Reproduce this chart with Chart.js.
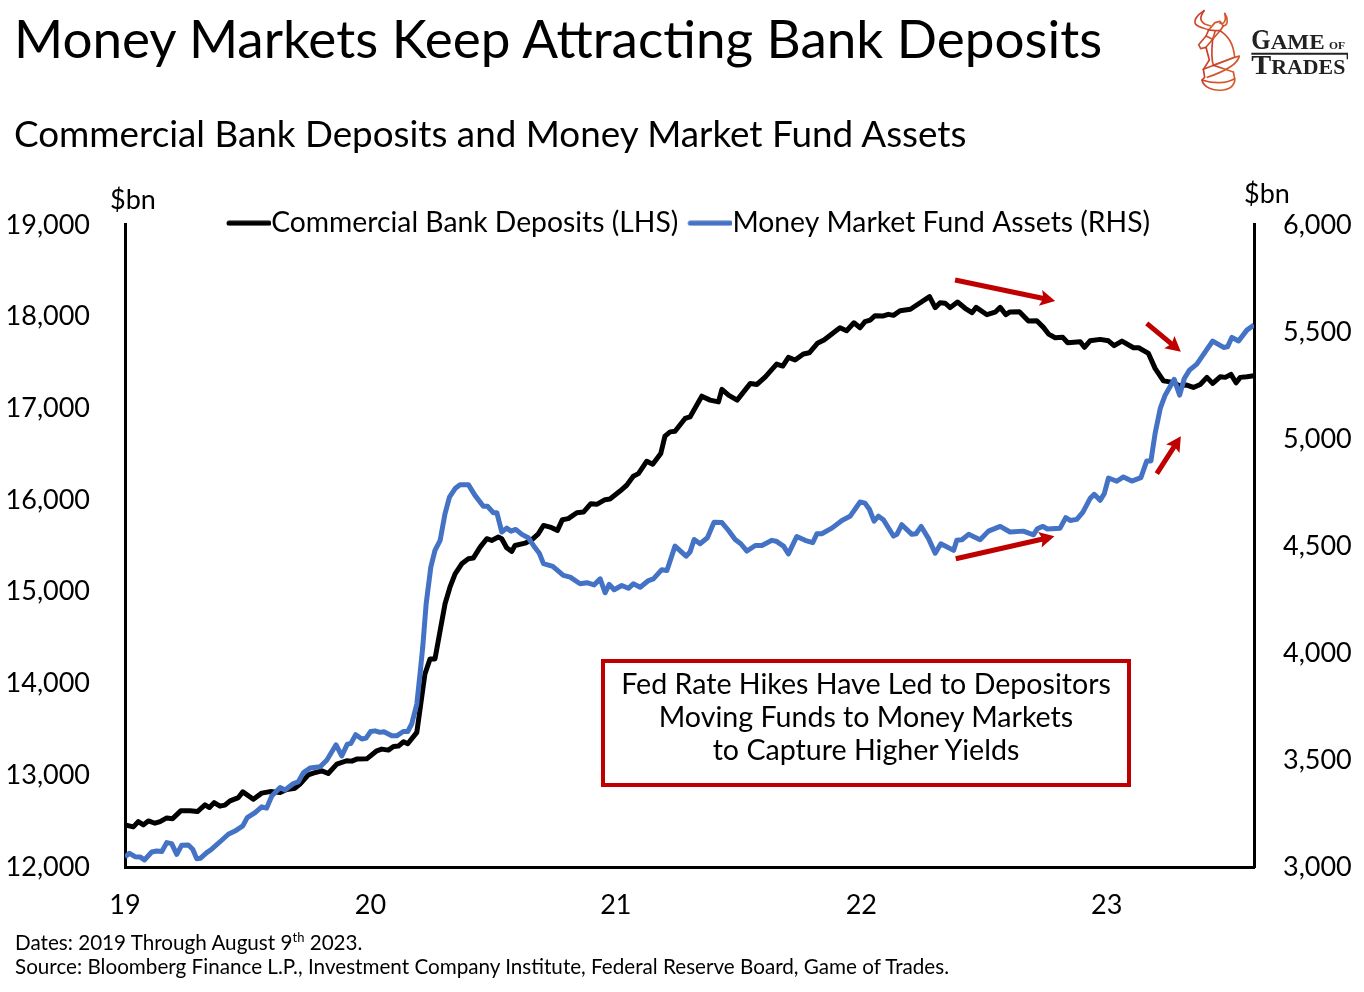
<!DOCTYPE html>
<html>
<head>
<meta charset="utf-8">
<title>Money Markets Keep Attracting Bank Deposits</title>
<script src="https://cdn.jsdelivr.net/npm/chart.js@4"></script>
<style>
  html, body { margin: 0; padding: 0; background: #fff; }
  body { width: 1364px; height: 992px; position: relative; overflow: hidden; font-family: Lato, sans-serif; color: #000; }
  canvas { position: absolute; left: 0; top: 0; }
  .txt { position: absolute; white-space: nowrap; }
  #title { left: 14px; top: 7px; font-size: 53px; line-height: 62px; }
  #subtitle { left: 14px; top: 111px; font-size: 36.8px; line-height: 44px; }
  .unit { font-size: 27px; line-height: 32px; }
  #unitLeft { left: 110px; top: 183px; }
  #unitRight { left: 1244px; top: 177px; }
  #note { left: 15px; top: 930px; font-size: 20.65px; line-height: 24px; }
  #note sup { font-size: 13px; line-height: 0; }
  #callout { position: absolute; left: 601px; top: 659px; width: 522px; height: 116px; border: 4px solid #C00000; text-align: center; font-size: 28.6px; line-height: 33px; padding-top: 4px; box-sizing: content-box; }
  #logo { position: absolute; left: 1170px; top: 0; }
  .logoText { font-family: "Liberation Serif", serif; fill: #222; font-weight: bold; }
</style>
</head>
<body>
<canvas id="chart" width="1364" height="992"></canvas>
<div class="txt" id="title">Money Markets Keep Attracting Bank Deposits</div>
<div class="txt" id="subtitle">Commercial Bank Deposits and Money Market Fund Assets</div>
<div class="txt unit" id="unitLeft">$bn</div>
<div class="txt unit" id="unitRight">$bn</div>
<div id="callout">Fed Rate Hikes Have Led to Depositors<br>Moving Funds to Money Markets<br>to Capture Higher Yields</div>
<div class="txt" id="note">Dates: 2019 Through August 9<sup>th</sup> 2023.<br>Source: Bloomberg Finance L.P., Investment Company Institute, Federal Reserve Board, Game of Trades.</div>
<svg id="logo" width="194" height="100" viewBox="0 0 582 300">
  <defs>
    <linearGradient id="bullRed" x1="0" y1="0" x2="1" y2="1">
      <stop offset="0" stop-color="#C8322B"/>
      <stop offset="1" stop-color="#D9682E"/>
    </linearGradient>
  </defs>
  <g fill="none" stroke="url(#bullRed)" stroke-width="5" stroke-linejoin="round" stroke-linecap="round">
    <path d="M102 32 C82 45 68 62 78 74 C88 84 104 84 116 90 L135 68 L150 64 L160 78 C174 76 176 56 164 40 C170 62 162 74 150 70"/>
    <path d="M102 32 C90 50 88 62 104 72 L122 78"/>
    <path d="M116 90 L108 108 L86 134 L92 146 L108 142 L128 118 L150 92 L160 78"/>
    <path d="M108 108 L128 118 L136 92 L116 90 M136 92 L150 92"/>
    <path d="M150 92 C176 110 190 130 194 172 L130 196 C122 170 126 140 128 118"/>
    <path d="M108 142 L118 180 L100 208 L194 172 L208 168 C204 190 170 212 112 232"/>
    <path d="M100 208 L104 232 L96 240 C100 262 130 274 160 270 C186 266 196 250 194 236 L190 216"/>
    <path d="M96 240 C130 252 170 250 194 236"/>
    <path d="M130 196 L190 216"/>
  </g>
  <text class="logoText" x="244" y="146" font-size="86" textLength="58" lengthAdjust="spacingAndGlyphs">G</text>
  <text class="logoText" x="302" y="146" font-size="60" textLength="162" lengthAdjust="spacingAndGlyphs">AME</text>
  <text class="logoText" x="477" y="146" font-size="30" textLength="48" lengthAdjust="spacingAndGlyphs">OF</text>
  <path d="M244 158 H534 V178 H530 V164 H244 Z" fill="#222"/>
  <text class="logoText" x="244" y="221" font-size="84" textLength="60" lengthAdjust="spacingAndGlyphs">T</text>
  <text class="logoText" x="304" y="221" font-size="62" textLength="222" lengthAdjust="spacingAndGlyphs">RADES</text>
</svg>

<script>
// 横軸は年（19 = 2019年初）で読み取り
const depositYears = [
  19.000, 19.034, 19.054, 19.075, 19.095, 19.122, 19.143, 19.170, 19.194, 19.227, 19.265, 19.295, 19.326, 19.344, 19.363, 19.387,
  19.407, 19.428, 19.462, 19.480, 19.523, 19.557, 19.591, 19.632, 19.659, 19.693, 19.713, 19.747, 19.767, 19.802, 19.828, 19.863,
  19.903, 19.924, 19.944, 19.985, 20.026, 20.046, 20.073, 20.094, 20.114, 20.135, 20.152, 20.189, 20.222, 20.243, 20.263, 20.284,
  20.304, 20.324, 20.345, 20.372, 20.399, 20.419, 20.447, 20.474, 20.494, 20.521, 20.535, 20.555, 20.576, 20.589, 20.630, 20.657,
  20.684, 20.705, 20.732, 20.762, 20.782, 20.806, 20.841, 20.868, 20.898, 20.922, 20.956, 20.976, 21.017, 21.044, 21.071, 21.092,
  21.126, 21.150, 21.183, 21.200, 21.221, 21.241, 21.282, 21.302, 21.350, 21.384, 21.418, 21.432, 21.459, 21.494, 21.548, 21.575,
  21.609, 21.636, 21.655, 21.680, 21.703, 21.730, 21.764, 21.788, 21.821, 21.848, 21.913, 21.940, 21.970, 21.995, 22.015, 22.036,
  22.056, 22.090, 22.110, 22.131, 22.158, 22.200, 22.226, 22.278, 22.301, 22.321, 22.342, 22.362, 22.392, 22.423, 22.451, 22.468,
  22.512, 22.545, 22.566, 22.589, 22.606, 22.644, 22.681, 22.715, 22.742, 22.763, 22.790, 22.821, 22.841, 22.892, 22.909, 22.932,
  22.973, 23.007, 23.030, 23.062, 23.109, 23.130, 23.170, 23.197, 23.231, 23.258, 23.299, 23.326, 23.353, 23.381, 23.408, 23.432,
  23.462, 23.483, 23.506, 23.527, 23.544, 23.571, 23.600
];
const depositValues = [
  12459, 12437, 12495, 12459, 12502, 12477, 12495, 12535, 12527, 12612, 12612, 12604, 12677, 12648, 12702, 12663,
  12674, 12721, 12757, 12819, 12739, 12805, 12822, 12811, 12844, 12859, 12903, 13005, 13023, 13048, 13019, 13121,
  13158, 13154, 13176, 13179, 13267, 13285, 13274, 13314, 13318, 13365, 13343, 13467, 14104, 14268, 14268, 14577,
  14869, 15050, 15196, 15305, 15360, 15367, 15487, 15578, 15560, 15596, 15578, 15480, 15440, 15505, 15530, 15566,
  15632, 15723, 15705, 15669, 15786, 15797, 15862, 15869, 15960, 15953, 16004, 16011, 16098, 16161, 16259, 16288,
  16423, 16390, 16507, 16696, 16743, 16750, 16889, 16906, 17132, 17089, 17070, 17206, 17143, 17089, 17271, 17260,
  17343, 17424, 17482, 17460, 17555, 17526, 17591, 17605, 17708, 17744, 17878, 17845, 17932, 17878, 17944, 17962,
  18009, 18006, 18024, 18013, 18064, 18079, 18126, 18217, 18097, 18151, 18145, 18097, 18159, 18090, 18042, 18100,
  18020, 18047, 18100, 18020, 18050, 18053, 17951, 17955, 17882, 17809, 17769, 17773, 17714, 17725, 17664, 17736,
  17751, 17736, 17682, 17733, 17660, 17660, 17598, 17435, 17299, 17288, 17245, 17253, 17227, 17260, 17337, 17271,
  17343, 17337, 17369, 17278, 17337, 17343, 17354
];

const fundYears = [
  19.000, 19.018, 19.041, 19.061, 19.079, 19.109, 19.129, 19.150, 19.170, 19.190, 19.211, 19.231, 19.258, 19.276, 19.292, 19.308,
  19.333, 19.353, 19.394, 19.421, 19.448, 19.480, 19.498, 19.530, 19.557, 19.577, 19.598, 19.632, 19.652, 19.686, 19.706, 19.727,
  19.754, 19.795, 19.822, 19.860, 19.883, 19.906, 19.920, 19.940, 19.965, 19.982, 20.001, 20.019, 20.039, 20.055, 20.087, 20.107,
  20.134, 20.152, 20.168, 20.189, 20.202, 20.213, 20.227, 20.246, 20.263, 20.284, 20.304, 20.322, 20.345, 20.365, 20.399, 20.426,
  20.460, 20.477, 20.501, 20.515, 20.535, 20.555, 20.573, 20.592, 20.617, 20.643, 20.671, 20.688, 20.705, 20.743, 20.786, 20.814,
  20.854, 20.882, 20.911, 20.936, 20.956, 20.973, 20.993, 21.024, 21.051, 21.071, 21.099, 21.133, 21.153, 21.187, 21.208, 21.241,
  21.286, 21.302, 21.319, 21.343, 21.373, 21.400, 21.432, 21.459, 21.486, 21.509, 21.534, 21.568, 21.595, 21.636, 21.653, 21.683,
  21.703, 21.737, 21.771, 21.802, 21.819, 21.839, 21.880, 21.921, 21.954, 21.995, 22.015, 22.033, 22.052, 22.070, 22.090, 22.131,
  22.145, 22.165, 22.206, 22.223, 22.244, 22.274, 22.301, 22.324, 22.376, 22.389, 22.410, 22.437, 22.484, 22.518, 22.566, 22.606,
  22.660, 22.702, 22.717, 22.740, 22.758, 22.810, 22.833, 22.851, 22.878, 22.903, 22.932, 22.949, 22.973, 22.990, 23.007, 23.041,
  23.068, 23.102, 23.139, 23.163, 23.180, 23.197, 23.218, 23.238, 23.275, 23.297, 23.316, 23.337, 23.367, 23.397, 23.432, 23.476,
  23.492, 23.510, 23.537, 23.571, 23.600
];
const fundValues = [
  3047, 3064, 3048, 3047, 3033, 3070, 3075, 3072, 3114, 3109, 3059, 3102, 3103, 3083, 3039, 3041,
  3067, 3083, 3125, 3153, 3168, 3192, 3231, 3254, 3281, 3275, 3332, 3371, 3360, 3390, 3398, 3441,
  3462, 3468, 3499, 3571, 3519, 3574, 3577, 3618, 3598, 3602, 3633, 3636, 3629, 3632, 3613, 3613,
  3633, 3633, 3668, 3761, 3902, 4026, 4229, 4401, 4479, 4526, 4651, 4728, 4768, 4786, 4786, 4736,
  4685, 4685, 4655, 4655, 4565, 4583, 4569, 4577, 4554, 4538, 4491, 4466, 4417, 4404, 4362, 4354,
  4323, 4328, 4318, 4346, 4281, 4320, 4295, 4315, 4302, 4323, 4307, 4338, 4346, 4389, 4385, 4499,
  4452, 4471, 4530, 4510, 4538, 4611, 4609, 4572, 4530, 4510, 4476, 4502, 4502, 4526, 4522, 4499,
  4463, 4544, 4526, 4515, 4557, 4557, 4583, 4619, 4638, 4705, 4700, 4671, 4616, 4639, 4622, 4546,
  4554, 4599, 4554, 4557, 4591, 4534, 4466, 4510, 4479, 4526, 4529, 4554, 4529, 4569, 4591, 4565,
  4569, 4552, 4580, 4591, 4579, 4583, 4632, 4619, 4624, 4658, 4721, 4741, 4713, 4744, 4817, 4802,
  4822, 4803, 4819, 4897, 4897, 5025, 5142, 5204, 5278, 5204, 5282, 5321, 5349, 5399, 5457, 5427,
  5430, 5474, 5457, 5508, 5532
];

const xTickLabels = { 19: '19', 20: '20', 21: '21', 22: '22', 23: '23' };

// 赤い矢印（年, 左軸の値）
const arrowTails = [[22.382, 18399], [23.163, 17926], [23.204, 16288], [22.385, 15360]];
const arrowTips = [[22.790, 18170], [23.302, 17616], [23.302, 16696], [22.787, 15604]];

const tickFont = { family: 'Lato, sans-serif', size: 27 };

// 凡例の線（文字のすぐ手前まで伸ばすため画像にする）
function legendLine(color) {
  const c = document.createElement('canvas');
  c.width = 58;
  c.height = 6;
  const g = c.getContext('2d');
  g.strokeStyle = color;
  g.lineWidth = 5;
  g.lineCap = 'round';
  g.beginPath();
  g.moveTo(16, 3);
  g.lineTo(56, 3);
  g.stroke();
  return c;
}

// 矢印を描くプラグイン
const arrowPlugin = {
  id: 'arrows',
  afterDatasetsDraw(chart) {
    const ctx = chart.ctx;
    const xs = chart.scales.x;
    const ys = chart.scales.yLeft;
    ctx.save();
    ctx.fillStyle = '#C00000';
    arrowTails.forEach(function (tail, i) {
      const x0 = xs.getPixelForValue(tail[0]);
      const y0 = ys.getPixelForValue(tail[1]);
      const x1 = xs.getPixelForValue(arrowTips[i][0]);
      const y1 = ys.getPixelForValue(arrowTips[i][1]);
      const len = Math.hypot(x1 - x0, y1 - y0);
      ctx.save();
      ctx.translate(x0, y0);
      ctx.rotate(Math.atan2(y1 - y0, x1 - x0));
      ctx.beginPath();
      ctx.moveTo(0, -2.5);
      ctx.lineTo(len - 13, -2.5);
      ctx.lineTo(len - 13 - 2, -8);
      ctx.lineTo(len, 0);
      ctx.lineTo(len - 13 - 2, 8);
      ctx.lineTo(len - 13, 2.5);
      ctx.lineTo(0, 2.5);
      ctx.closePath();
      ctx.fill();
      ctx.restore();
    });
    ctx.restore();
  }
};

// 凡例をプロット枠に重なる位置へずらす
const legendShift = {
  id: 'legendShift',
  afterLayout(chart) {
    chart.legend.top = 199;
    chart.legend.bottom = 250;
    chart.legend.left = 217;
  }
};

new Chart(document.getElementById('chart').getContext('2d'), {
  type: 'line',
  data: {
    datasets: [
      {
        label: 'Commercial Bank Deposits (LHS)',
        data: depositYears.map(function (y, i) { return { x: y, y: depositValues[i] }; }),
        borderColor: '#000000',
        backgroundColor: '#000000',
        borderWidth: 5,
        pointStyle: legendLine('#000000'),
        yAxisID: 'yLeft',
        order: 2
      },
      {
        label: 'Money Market Fund Assets (RHS)',
        data: fundYears.map(function (y, i) { return { x: y, y: fundValues[i] }; }),
        borderColor: '#4472C4',
        backgroundColor: '#4472C4',
        borderWidth: 5,
        pointStyle: legendLine('#4472C4'),
        yAxisID: 'yRight',
        order: 1
      }
    ]
  },
  options: {
    responsive: false,
    animation: false,
    devicePixelRatio: 1,
    layout: { padding: { top: 176.5, left: 0, right: 0, bottom: 0 } },
    elements: { point: { radius: 0 }, line: { tension: 0, borderJoinStyle: 'round' } },
    plugins: {
      tooltip: { enabled: false },
      legend: {
        position: 'top',
        align: 'start',
        labels: {
          color: '#000',
          font: { family: 'Lato, sans-serif', size: 28.3 },
          usePointStyle: true,
          pointStyleWidth: 30,
          padding: 10,
          sort: function (a, b) { return a.datasetIndex - b.datasetIndex; }
        }
      }
    },
    scales: {
      x: {
        type: 'linear',
        min: 19,
        max: 23.6,
        grid: { display: false, drawTicks: false },
        border: { color: '#000', width: 3 },
        ticks: {
          stepSize: 1,
          includeBounds: false,
          padding: 22,
          maxRotation: 0,
          color: '#000',
          font: tickFont,
          callback: function (v) { return xTickLabels[v]; }
        },
        afterFit: function (scale) { scale.height = 125; }
      },
      yLeft: {
        position: 'left',
        min: 12000,
        max: 19000,
        grid: { display: false, drawTicks: false },
        border: { color: '#000', width: 3 },
        ticks: {
          stepSize: 1000,
          padding: 35,
          color: '#000',
          font: tickFont,
          callback: function (v) { return v.toLocaleString('en-US'); }
        },
        afterFit: function (scale) { scale.width = 125; }
      },
      yRight: {
        position: 'right',
        min: 3000,
        max: 6000,
        grid: { display: false, drawTicks: false },
        border: { color: '#000', width: 3 },
        ticks: {
          stepSize: 500,
          padding: 29,
          color: '#000',
          font: tickFont,
          callback: function (v) { return v.toLocaleString('en-US'); }
        },
        afterFit: function (scale) { scale.width = 110; }
      }
    }
  },
  plugins: [arrowPlugin, legendShift]
});
</script>
</body>
</html>
